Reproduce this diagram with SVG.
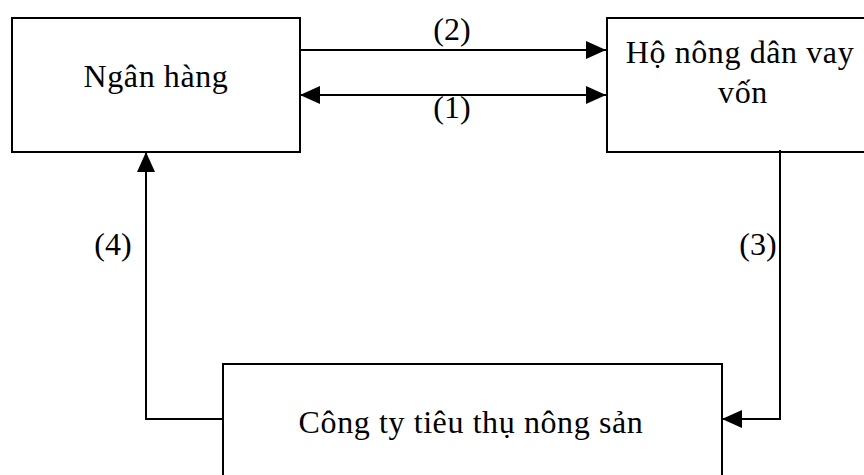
<svg xmlns="http://www.w3.org/2000/svg" width="864" height="475" viewBox="0 0 864 475">
<style>
.box{fill:#fff;stroke:#000;stroke-width:2}
.ln{fill:none;stroke:#000;stroke-width:2}
text{font-family:"Liberation Serif","Times New Roman",serif;font-size:32px;fill:#000;text-anchor:middle;letter-spacing:0.6px}
.lb{font-size:32px;letter-spacing:0}
</style>
<defs>
<marker id="ah" viewBox="0 0 20 20" refX="20" refY="10" markerWidth="20" markerHeight="20" markerUnits="userSpaceOnUse" orient="auto-start-reverse">
<path d="M0,1 L20,10 L0,19 Z" fill="#000"/>
</marker>
</defs>
<g id="node-ngan-hang">
<rect class="box" x="12" y="18" width="288" height="134"/>
<text x="156" y="87">Ngân hàng</text>
</g>
<g id="node-ho-nong-dan">
<rect class="box" x="607" y="18" width="280" height="134"/>
<text x="740" y="63">Hộ nông dân vay</text>
<text x="743" y="103">vốn</text>
</g>
<g id="node-cong-ty">
<rect class="box" x="223" y="364" width="499" height="130"/>
<text x="471" y="433">Công ty tiêu thụ nông sản</text>
</g>
<g id="connectors">
<path class="ln" d="M300,50 H606" marker-end="url(#ah)"/>
<path class="ln" d="M300,95 H606" marker-start="url(#ah)" marker-end="url(#ah)"/>
<path class="ln" d="M223,419 H146 V152" marker-end="url(#ah)"/>
<path class="ln" d="M780,150 V419 H722" marker-end="url(#ah)"/>
<text class="lb" x="452" y="40">(2)</text>
<text class="lb" x="452" y="118">(1)</text>
<text class="lb" x="113" y="255">(4)</text>
<text class="lb" x="758" y="255">(3)</text>
</g>
</svg>
